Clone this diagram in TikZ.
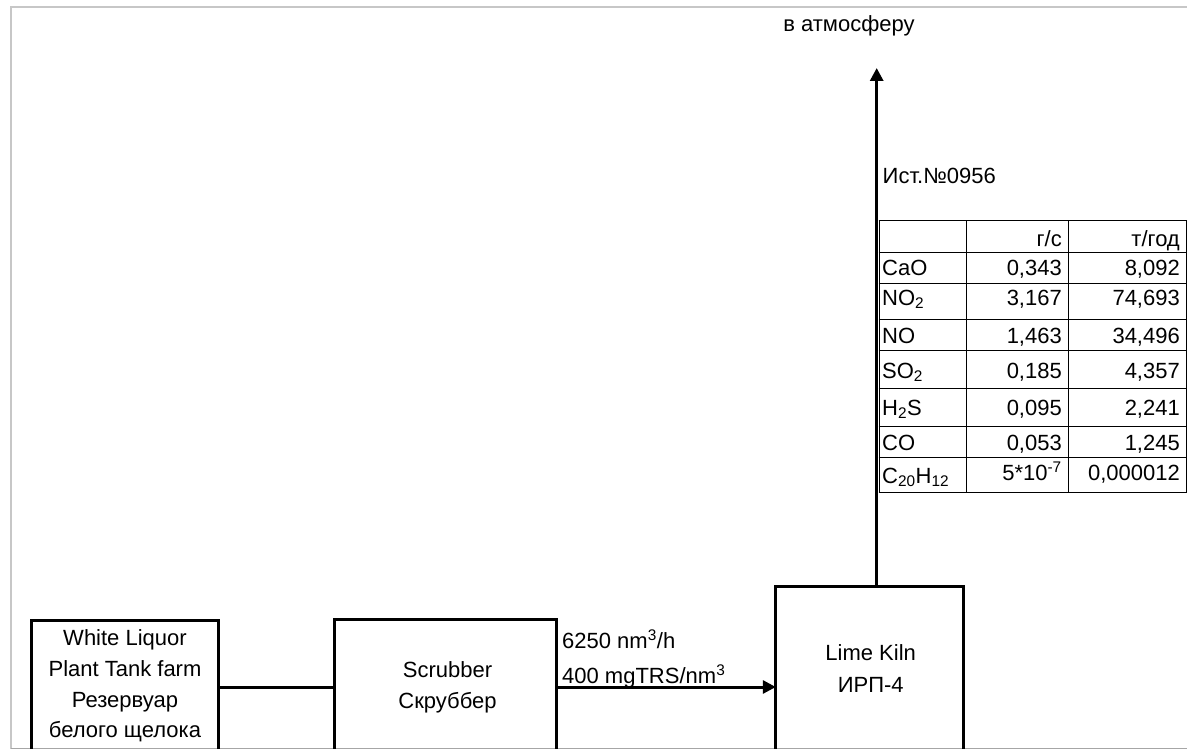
\documentclass[tikz,border=0pt]{standalone}
\usepackage{fontspec}
\setmainfont{Liberation Sans}
\usetikzlibrary{arrows.meta}
\begin{document}
\begin{tikzpicture}[x=1pt,y=-1pt,
  box/.style={draw,line width=3pt,inner sep=0pt,outer sep=0pt,anchor=north west},
  txt/.style={inner sep=0pt,font=\fontsize{22}{26}\selectfont},
  cname/.style={txt,anchor=base west},
  cval/.style={txt,anchor=base east},
  flow/.style={line width=3pt},
  arr/.style={line width=3pt,-{Triangle[length=13pt,width=13pt]}},
  grid/.style={line width=1pt},
  frame/.style={draw=black!22,line width=2pt}]
\path[use as bounding box] (0,0) rectangle (1187,749);
\clip (0,0) rectangle (1187,749);
% screenshot frame
\draw[frame] (11,749) -- (11,7) -- (1187,7);
\draw[frame,draw=black!35,line width=1.5pt] (11,748.5) -- (1187,748.5);
% boxes
\node[box,minimum width=187pt,minimum height=134pt] (wl) at (31.5,620) {};
\node[box,minimum width=222pt,minimum height=135pt] (scr) at (334.5,619.5) {};
\node[box,minimum width=187.5pt,minimum height=200pt] (kiln) at (775.8,586.3) {};
% box texts
\node[txt,anchor=base] (wl1) at (125,645) {White Liquor};
\node[txt,anchor=base] (wl2) at (125,676) {Plant Tank farm};
\node[txt,anchor=base] (wl3) at (125,707) {Резервуар};
\node[txt,anchor=base] (wl4) at (125,737) {белого щелока};
\node[txt,anchor=base] (scr1) at (447.5,677) {Scrubber};
\node[txt,anchor=base] (scr2) at (447.5,708) {Скруббер};
\node[txt,anchor=base] (kiln1) at (870.7,660) {Lime Kiln};
\node[txt,anchor=base] (kiln2) at (870.7,692) {ИРП-4};
% connectors
\draw[flow] (wl) -- (scr);
\draw[arr] (scr) -- (scr -| kiln.west);
\node[cname] (q1) at (562,648) {6250 nm\textsuperscript{3}/h};
\node[cname] (q2) at (562,683) {400 mgTRS/nm\textsuperscript{3}};
\coordinate (sky) at (876.7,68);
\draw[arr] (sky |- kiln.north) -- (sky);
\node[txt,anchor=base] (atm) at (849,32) {в атмосферу};
\node[cname] (src) at (882.5,184) {Ист.№0956};
% table grid
\foreach \yy in {221,252,283,319,350,388,426,457,492}
  \draw[grid] (878.5,\yy) -- (1186.5,\yy);
\foreach \xx in {879,966,1068,1186}
  \draw[grid] (\xx,221) -- (\xx,492);
% table texts
\node[cval] (h1) at (1062,246) {г/с};
\node[cval] (h2) at (1180,246) {т/год};
\node[cname] (r1) at (882,275) {CaO};
\node[cval] (r1a) at (1062,275) {0,343};
\node[cval] (r1b) at (1180,275) {8,092};
\node[cname] (r2) at (882,305) {NO\textsubscript{2}};
\node[cval] (r2a) at (1062,305) {3,167};
\node[cval] (r2b) at (1180,305) {74,693};
\node[cname] (r3) at (882,343) {NO};
\node[cval] (r3a) at (1062,343) {1,463};
\node[cval] (r3b) at (1180,343) {34,496};
\node[cname] (r4) at (882,378) {SO\textsubscript{2}};
\node[cval] (r4a) at (1062,378) {0,185};
\node[cval] (r4b) at (1180,378) {4,357};
\node[cname] (r5) at (882,415) {H\textsubscript{2}S};
\node[cval] (r5a) at (1062,415) {0,095};
\node[cval] (r5b) at (1180,415) {2,241};
\node[cname] (r6) at (882,450) {CO};
\node[cval] (r6a) at (1062,450) {0,053};
\node[cval] (r6b) at (1180,450) {1,245};
\node[cname] (r7) at (882,483) {C\textsubscript{20}H\textsubscript{12}};
\node[cval] (r7a) at (1062,480) {5*10\textsuperscript{-7}};
\node[cval] (r7b) at (1180,480) {0,000012};
\end{tikzpicture}
\end{document}
